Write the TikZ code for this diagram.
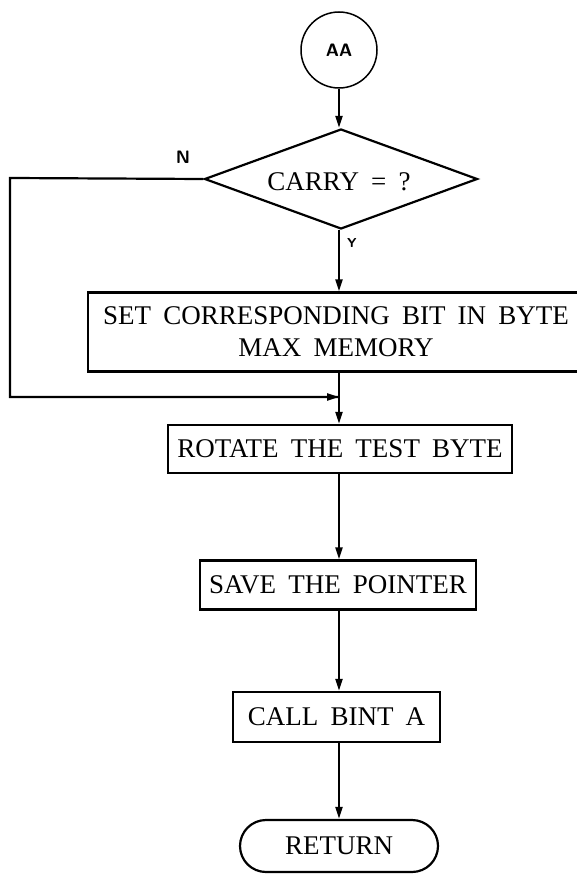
\documentclass[tikz,border=0pt]{standalone}
\usepackage{fontspec}
\setmainfont[WordSpace=1.8]{Liberation Serif}
\usetikzlibrary{shapes.geometric,arrows.meta}
\begin{document}
\begin{tikzpicture}[x=1pt,y=-1pt,
  every node/.style={font=\fontsize{27}{32}\selectfont},
  ln/.style={line width=2.2pt},
  box/.style={draw,line width=2.2pt,rectangle,inner sep=0pt,align=center},
  arr/.style={ln,-{Triangle[length=12pt,width=7pt]}},
  lbl/.style={font=\sffamily\bfseries\fontsize{13}{14}\selectfont,inner sep=0pt}]
\clip (0,0) rectangle (577,874);
\fill[white] (0,0) rectangle (577,874);
\coordinate (axis) at (339,0);
\node[draw,circle,line width=1.5pt,minimum size=76pt,inner sep=0pt,font=\sffamily\bfseries\fontsize{18}{20}\selectfont] (start) at (339,50) {AA};
\node[draw,diamond,line width=2.2pt,minimum width=273pt,minimum height=100pt,inner sep=0pt] (dec) at (341,179) {};
\node at (339,182) {CARRY = ?};
\node[box,minimum width=496pt,minimum height=79pt] (set) at (336,332) {SET CORRESPONDING BIT IN BYTE\\MAX MEMORY};
\node[box,minimum width=344pt,minimum height=48pt] (rot) at (340,449) {ROTATE THE TEST BYTE};
\node[box,minimum width=276pt,minimum height=49pt] (save) at (338,585) {SAVE THE POINTER};
\node[box,minimum width=207pt,minimum height=50pt] (call) at (336.5,717) {CALL BINT A};
\node[box,rounded corners=26pt,minimum width=198pt,minimum height=52pt] (ret) at (339,846) {RETURN};
\coordinate (mrg) at (339,397);
\coordinate (fbc) at (10,178);
\draw[arr] (start.south -| axis) -- (dec.north -| axis);
\draw[arr] (dec.south -| axis) -- (set.north -| axis);
\draw[arr] (set.south -| axis) -- (rot.north -| axis);
\draw[ln] (dec.west) -- (fbc) |- (mrg);
\draw[arr] (fbc |- mrg) -- (mrg);
\draw[arr] (rot.south -| axis) -- (save.north -| axis);
\draw[arr] (save.south -| axis) -- (call.north -| axis);
\draw[arr] (call.south -| axis) -- (ret.north -| axis);
\node[lbl,font=\sffamily\bfseries\fontsize{18}{20}\selectfont] (nlab) at (183,157) {N};
\node[lbl] (ylab) at (352,243) {Y};
\end{tikzpicture}
\end{document}
